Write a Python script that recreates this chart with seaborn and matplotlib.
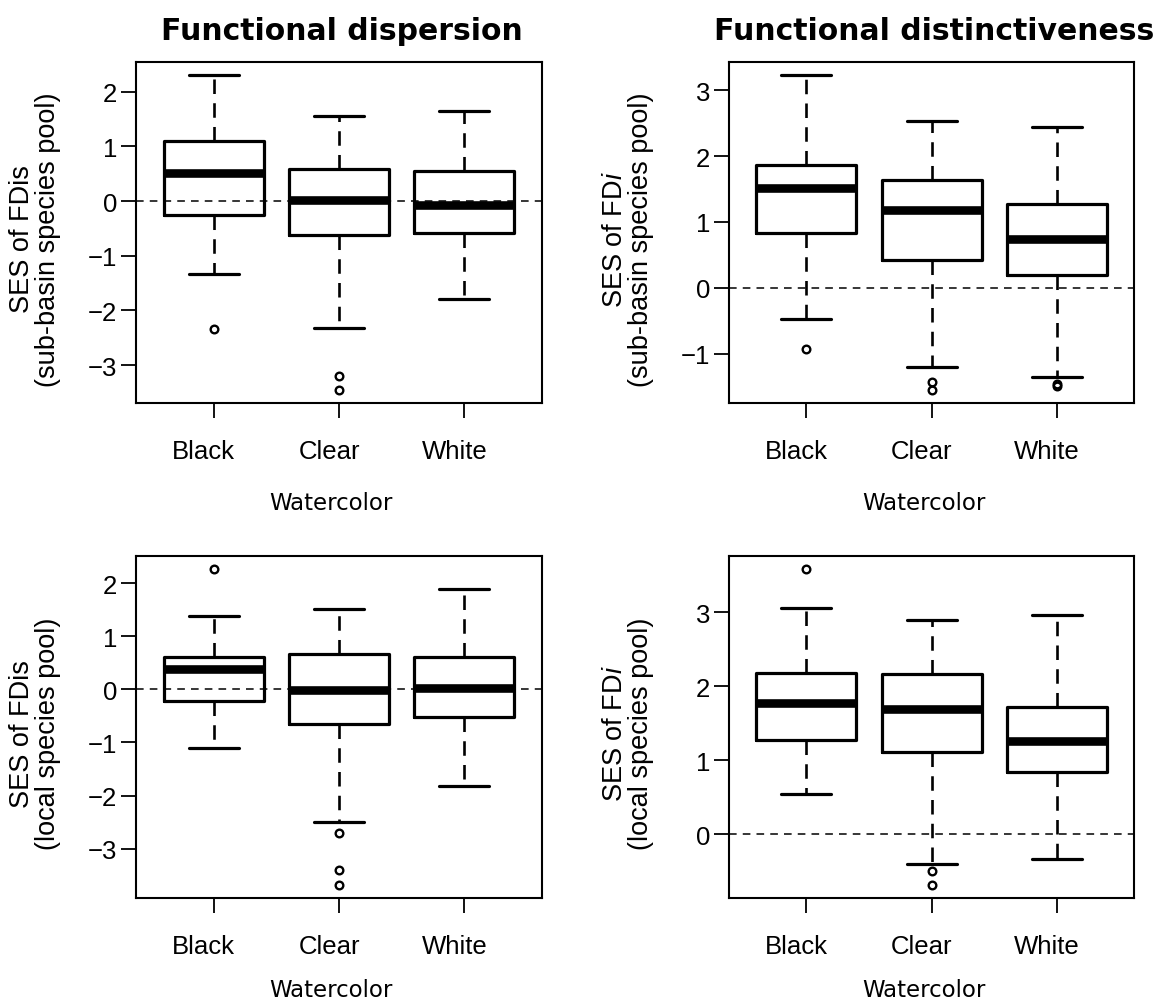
import numpy as np
import pandas as pd
import matplotlib
matplotlib.use("Agg")
import matplotlib.pyplot as plt
import matplotlib.transforms as mtransforms
import seaborn as sns

groups = ["Black", "Clear", "White"]

# Panel A: SES of FDis (sub-basin species pool)
a_whislo = [-1.34, -2.32, -1.79]
a_q1 = [-0.25, -0.62, -0.59]
a_med = [0.51, 0.02, -0.07]
a_q3 = [1.10, 0.58, 0.54]
a_whishi = [2.31, 1.56, 1.64]
a_fliers = [[-2.34], [-3.19, -3.46], []]
a_yticks = [-3, -2, -1, 0, 1, 2]

# Panel B: SES of FDi (sub-basin species pool)
b_whislo = [-0.47, -1.21, -1.35]
b_q1 = [0.83, 0.42, 0.19]
b_med = [1.51, 1.18, 0.74]
b_q3 = [1.87, 1.64, 1.28]
b_whishi = [3.24, 2.54, 2.44]
b_fliers = [[-0.93], [-1.44, -1.56], [-1.47, -1.50]]
b_yticks = [-1, 0, 1, 2, 3]

# Panel C: SES of FDis (local species pool)
c_whislo = [-1.10, -2.50, -1.82]
c_q1 = [-0.23, -0.66, -0.52]
c_med = [0.38, -0.01, 0.03]
c_q3 = [0.60, 0.67, 0.60]
c_whishi = [1.37, 1.52, 1.89]
c_fliers = [[2.27], [-2.71, -3.40, -3.69], []]
c_yticks = [-3, -2, -1, 0, 1, 2]

# Panel D: SES of FDi (local species pool)
d_whislo = [0.54, -0.40, -0.34]
d_q1 = [1.27, 1.11, 0.84]
d_med = [1.77, 1.70, 1.26]
d_q3 = [2.18, 2.17, 1.72]
d_whishi = [3.06, 2.90, 2.97]
d_fliers = [[3.59], [-0.50, -0.69], []]
d_yticks = [0, 1, 2, 3]

titles = ["Functional dispersion", "Functional distinctiveness"]
ylabels = ["SES of FDis\n(sub-basin species pool)",
           "SES of FD$\\it{i}$\n(sub-basin species pool)",
           "SES of FDis\n(local species pool)",
           "SES of FD$\\it{i}$\n(local species pool)"]
xlabel = "Watercolor"

sns.set_theme(style="ticks")
plt.rcParams["font.family"] = ["Liberation Sans", "DejaVu Sans"]
plt.rcParams["mathtext.fontset"] = "custom"
plt.rcParams["mathtext.rm"] = "Liberation Sans"
plt.rcParams["mathtext.it"] = "Liberation Sans:italic"
plt.rcParams["axes.unicode_minus"] = True
plt.rcParams["text.color"] = "black"
plt.rcParams["axes.labelcolor"] = "black"
plt.rcParams["xtick.color"] = "black"
plt.rcParams["ytick.color"] = "black"

W, H = 1156, 1003
fig = plt.figure(figsize=(W / 100, H / 100), dpi=100)
fig.patch.set_facecolor("white")


def add_axes_px(x0, y0, x1, y1):
    return fig.add_axes([x0 / W, 1 - y1 / H, (x1 - x0) / W, (y1 - y0) / H])


def panel(ax, whislo, q1, med, q3, whishi, fliers, yticks):
    stats = []
    for i, g in enumerate(groups):
        stats.append(dict(label=g, whislo=whislo[i], q1=q1[i], med=med[i],
                          q3=q3[i], whishi=whishi[i], fliers=fliers[i]))
    ax.bxp(stats, positions=[1, 2, 3], widths=0.8, capwidths=0.4,
           showfliers=True, patch_artist=False,
           boxprops=dict(color="black", lw=2.3),
           whiskerprops=dict(color="black", lw=1.9, ls=(0, (5.5, 3.5))),
           capprops=dict(color="black", lw=2.3),
           medianprops=dict(color="black", lw=6.2, solid_capstyle="butt"),
           flierprops=dict(marker="o", markersize=5.5, markerfacecolor="none",
                           markeredgecolor="black", markeredgewidth=1.7))
    ax.axhline(0, color="black", lw=1.1, ls=(0, (5, 4)), zorder=5)
    allv = list(whislo) + list(whishi) + [v for f in fliers for v in f]
    lo, hi = min(allv), max(allv)
    pad = 0.04 * (hi - lo)
    ax.set_ylim(lo - pad, hi + pad)
    ax.set_xlim(0.38, 3.62)
    ax.set_yticks(yticks)
    ax.set_xticks([1, 2, 3])
    ax.set_xticklabels(groups)
    ax.set_facecolor("white")
    for s in ax.spines.values():
        s.set_visible(True)
        s.set_color("black")
        s.set_linewidth(1.5)
    ax.tick_params(axis="x", length=11, width=1.3, color="black", labelsize=18.5,
                   pad=15, labelcolor="black")
    ax.tick_params(axis="y", length=11, width=1.3, color="black", labelsize=18.5,
                   pad=2.5, labelcolor="black")
    shift = mtransforms.ScaledTranslation(-10 / 100, 0, fig.dpi_scale_trans)
    for lab in ax.get_xticklabels():
        lab.set_transform(lab.get_transform() + shift)
    ax.grid(False)


boxes = [(136, 63, 542, 404), (729, 63, 1134, 404),
         (136, 557, 542, 899), (729, 557, 1134, 899)]
data = [(a_whislo, a_q1, a_med, a_q3, a_whishi, a_fliers, a_yticks),
        (b_whislo, b_q1, b_med, b_q3, b_whishi, b_fliers, b_yticks),
        (c_whislo, c_q1, c_med, c_q3, c_whishi, c_fliers, c_yticks),
        (d_whislo, d_q1, d_med, d_q3, d_whishi, d_fliers, d_yticks)]
ylab_x = [35, 628, 35, 628]
xlab_y = [510, 510, 997, 997]

for k in range(4):
    x0, y0, x1, y1 = boxes[k]
    ax = add_axes_px(x0, y0, x1, y1)
    panel(ax, *data[k])
    fig.text(ylab_x[k] / W, 1 - ((y0 + y1) / 2 + 6) / H, ylabels[k], rotation=90,
             ha="center", va="center", multialignment="center", fontsize=19.5,
             linespacing=1.0, family="Liberation Sans", color="black")
    fig.text(((x0 + x1) / 2 - 8) / W, 1 - xlab_y[k] / H, xlabel, ha="center",
             va="baseline", fontsize=16.5, family="DejaVu Sans", color="black")
    if k < 2:
        fig.text(((x0 + x1) / 2 + 3) / W, 1 - 40 / H, titles[k], ha="center",
                 va="baseline", fontsize=21.5, fontweight="bold",
                 family="DejaVu Sans", color="black")

fig.savefig("out.png", dpi=100, facecolor="white")
